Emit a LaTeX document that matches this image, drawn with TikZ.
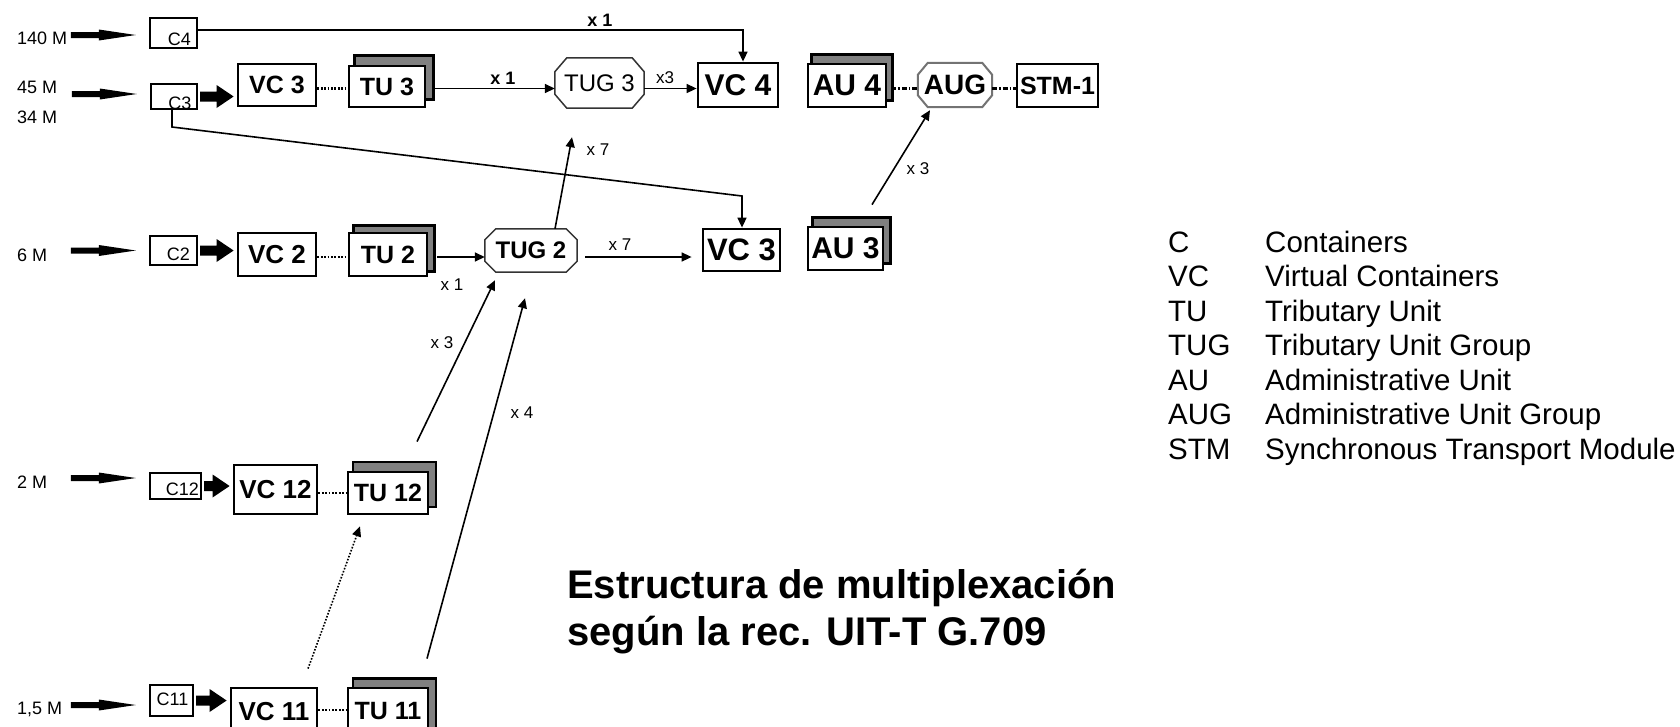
\documentclass[tikz,border=0pt]{standalone}
\usepackage{fontspec}
\setmainfont{Liberation Sans}
\usetikzlibrary{arrows.meta,calc,backgrounds}

\newcommand{\fsz}[1]{\fontsize{#1}{#1}\selectfont}

% thick input arrow (tip 13pt before the box, tail 65pt further left)
\newcommand{\inarrow}[2]{%
  \path ([xshift=-13pt,yshift=#2]#1.west) coordinate (ia-t);
  \fill ($(ia-t)+(-65,-3)$) -- ($(ia-t)+(-37,-3)$) -- ($(ia-t)+(-37,-5.5)$) -- (ia-t)
     -- ($(ia-t)+(-37,5.5)$) -- ($(ia-t)+(-37,3)$) -- ($(ia-t)+(-65,3)$) -- cycle;}

% fat block arrow from a C box to a VC box
\newcommand{\blockarrow}[2]{%
  \path ([xshift=2pt]#1.east) coordinate (ba-s);
  \path (ba-s -| #2.west) ++(-3,0) coordinate (ba-t);
  \fill ($(ba-s)+(0,-5)$) -- ($(ba-t)+(-17,-5)$) -- ($(ba-t)+(-17,-11.5)$) -- (ba-t)
     -- ($(ba-t)+(-17,11.5)$) -- ($(ba-t)+(-17,5)$) -- ($(ba-s)+(0,5)$) -- cycle;}

% grey shadow behind a unit box
\newcommand{\tushadow}[3]{%
  \begin{pgfonlayer}{background}
  \draw[shadowbox] ([shift={(#2,#3)}]#1.south west) rectangle ([shift={(#2,#3)}]#1.north east);
  \end{pgfonlayer}}

% octagon around a node
\newcommand{\octagon}[4]{%
  \draw[#4] ([xshift=#2]#1.north west) -- ([xshift=-#2]#1.north east) -- ([yshift=-#3]#1.north east)
    -- ([yshift=#3]#1.south east) -- ([xshift=-#2]#1.south east) -- ([xshift=#2]#1.south west)
    -- ([yshift=#3]#1.south west) -- ([yshift=-#3]#1.north west) -- cycle;}

\begin{document}
\begin{tikzpicture}[x=1pt,y=-1pt,
  bigbox/.style={draw, line width=2.8pt, fill=white, inner sep=0pt},
  cbox/.style={draw, line width=2.4pt, fill=white, inner sep=0pt},
  shadowbox/.style={draw, line width=2.4pt, fill=gray},
  ctext/.style={inner sep=0pt, font=\fsz{18}},
  rate/.style={anchor=base west, inner sep=0pt, font=\fsz{18}},
  xlab/.style={inner sep=0pt, font=\fsz{17}},
  xlabb/.style={inner sep=0pt, font=\bfseries\fsz{18}},
  octo/.style={inner sep=0pt, draw=none},
  tugline/.style={line width=1.5pt, draw=black!80},
  augline/.style={line width=2pt, draw=black!55},
  conn/.style={line width=1.6pt, -{Triangle[length=10pt,width=9pt]}},
  dotconn/.style={line width=1.6pt, dash pattern=on 1.6pt off 1.6pt, -{Triangle[length=10pt,width=9pt]}},
  dotc/.style={line width=2.5pt, dash pattern=on 1.8pt off 1.6pt},
  dashdotc/.style={line width=2.5pt, dash pattern=on 5pt off 2pt on 1.5pt off 2pt},
  legk/.style={anchor=base west, inner sep=0pt, font=\fsz{29.5}},
  title/.style={anchor=base west, inner sep=0pt, font=\bfseries\fsz{40}}
]
\useasboundingbox (0,0) rectangle (1680,726);
\begin{pgfonlayer}{background}\fill[white] (0,0) rectangle (1680,726);\end{pgfonlayer}

% ---------- rate labels ----------
\node[rate] (r140) at (17,44.5) {140 M};
\node[rate] (r45) at (17,93.5) {45 M};
\node[rate] (r34) at (17,123.5) {34 M};
\node[rate] (r6) at (17,261.5) {6 M};
\node[rate] (r2) at (17,488.5) {2 M};
\node[rate] (r15) at (17,714.5) {1,5 M};

% ---------- C boxes ----------
\node[cbox, minimum width=47pt, minimum height=30pt] (c4) at (173.5,33) {};
\node[ctext] (c4t) at (179.5,39) {C4};
\node[cbox, minimum width=46pt, minimum height=25pt] (c3) at (174,96.5) {};
\node[ctext] (c3t) at (180,103.5) {C3};
\node[cbox, minimum width=47pt, minimum height=29pt] (c2) at (173.5,250.5) {};
\node[ctext] (c2t) at (178.5,254) {C2};
\node[cbox, minimum width=51pt, minimum height=26pt] (c12) at (175.5,486) {};
\node[ctext] (c12t) at (182.5,489.5) {C12};
\node[cbox, minimum width=43pt, minimum height=31pt] (c11) at (171.5,700.5) {};
\node[ctext] (c11t) at (172.5,699.5) {C11};

\inarrow{c4}{-2pt}
\inarrow{c3}{2.5pt}
\inarrow{c2}{0pt}
\inarrow{c12}{8pt}
\inarrow{c11}{-4.5pt}

% ---------- row 1 ----------
\node[bigbox, minimum width=78pt, minimum height=42pt, font=\bfseries\fsz{25}] (vc3a) at (277,85) {VC 3};
\node[bigbox, minimum width=76pt, minimum height=41pt, font=\bfseries\fsz{25}] (tu3) at (387,86.5) {TU 3};
\tushadow{tu3}{7pt}{9pt}
\node[octo, minimum width=89pt, minimum height=50pt, font=\fsz{24}] (tug3) at (599.5,83) {TUG 3};
\octagon{tug3}{12pt}{14pt}{tugline}
\node[bigbox, minimum width=80pt, minimum height=44pt, font=\bfseries\fsz{30}] (vc4) at (738,85) {VC 4};
\node[bigbox, minimum width=78pt, minimum height=43pt, font=\bfseries\fsz{30}] (au4) at (847,85.5) {AU 4};
\tushadow{au4}{5pt}{8pt}
\node[octo, minimum width=74pt, minimum height=44pt, font=\bfseries\fsz{28}] (aug) at (955,85) {AUG};
\octagon{aug}{10pt}{12pt}{augline}
\node[bigbox, minimum width=81pt, minimum height=43pt, font=\bfseries\fsz{25}] (stm) at (1057.5,85.5) {STM-1};

% ---------- row 2 ----------
\node[bigbox, minimum width=78pt, minimum height=43pt, font=\bfseries\fsz{26}] (vc2) at (277,254.5) {VC 2};
\node[bigbox, minimum width=78pt, minimum height=43pt, font=\bfseries\fsz{25}] (tu2) at (388,254.5) {TU 2};
\tushadow{tu2}{6pt}{6pt}
\node[octo, minimum width=92pt, minimum height=43pt, font=\bfseries\fsz{24}] (tug2) at (531,250.5) {TUG 2};
\octagon{tug2}{11pt}{11pt}{tugline}
\node[bigbox, minimum width=77pt, minimum height=42pt, font=\bfseries\fsz{31}] (vc3b) at (741.5,250) {VC 3};
\node[bigbox, minimum width=75pt, minimum height=43pt, font=\bfseries\fsz{30}] (au3) at (845.5,248.5) {AU 3};
\tushadow{au3}{6pt}{8pt}

% ---------- row 3 ----------
\node[bigbox, minimum width=83pt, minimum height=49pt, font=\bfseries\fsz{26}] (vc12) at (275.5,489.5) {VC 12};
\node[bigbox, minimum width=80pt, minimum height=42pt, font=\bfseries\fsz{25}] (tu12) at (388,493) {TU 12};
\tushadow{tu12}{6.5pt}{8.5pt}

% ---------- row 4 ----------
\node[bigbox, minimum width=86pt, minimum height=47pt, font=\bfseries\fsz{26}] (vc11) at (274,711.5) {VC 11};
\node[bigbox, minimum width=80pt, minimum height=47pt, font=\bfseries\fsz{25}] (tu11) at (388,711.5) {TU 11};
\tushadow{tu11}{6.5pt}{8pt}

% ---------- block arrows ----------
\blockarrow{c3}{vc3a}
\blockarrow{c2}{vc2}
\blockarrow{c12}{vc12}
\blockarrow{c11}{vc11}

% ---------- connectors ----------
\coordinate (row1) at (0,88.5);
\coordinate (row2) at (0,257);
\coordinate (row3) at (0,493);
\coordinate (row4) at (0,710);

\draw[conn] ([yshift=3pt]c4.east) -| ([xshift=5pt]vc4.north);
\draw[dotc] (vc3a.east |- row1) -- (tu3.west |- row1);
\draw[conn, shorten <=9pt] (tu3.east |- row1) -- (tug3.west |- row1);
\draw[conn] (tug3.east |- row1) -- (vc4.west |- row1);
\draw[dashdotc, shorten <=4pt] (au4.east |- row1) -- (aug.west |- row1);
\draw[dashdotc] (aug.east |- row1) -- (stm.west |- row1);

\coordinate (bendA) at (172,127);
\coordinate (bendB) at (742,196);
\draw[conn] (c3.south -| bendA) -- (bendA) -- (bendB) -- (vc3b.north -| bendB);

\draw[conn] ($(tug2.north)+(24,0)$) -- ($(tug3.south)+(-27.5,29)$);

\draw[dotc] (vc2.east |- row2) -- (tu2.west |- row2);
\draw[conn, shorten <=9pt] (tu2.east |- row2) -- (tug2.west |- row2);
\draw[conn, shorten <=8pt, shorten >=10pt] (tug2.east |- row2) -- (vc3b.west |- row2);
\draw[conn] ($(au3.north)+(26.5,-21)$) -- ($(aug.south)+(-25,3)$);

\draw[dotc] (vc12.east |- row3) -- (tu12.west |- row3);
\draw[conn] ($(tu12.north)+(29,-29)$) -- ($(tug2.south)+(-36,8)$);

\draw[dotc] (vc11.east |- row4) -- (tu11.west |- row4);
\draw[conn] ($(tu11.north)+(39,-28)$) -- ($(tug2.south)+(-6,26)$);
\draw[dotconn] ($(vc11.north)+(34,-18)$) -- ($(tu12.south)+(-28,11)$);

% ---------- multiplicity labels ----------
\node[xlabb] (lx1a) at (600,20) {x 1};
\node[xlabb] (lx1b) at (503,78) {x 1};
\node[xlab] (lx3a) at (665,78) {x3};
\node[xlab] (lx7a) at (598,150) {x 7};
\node[xlab] (lx7b) at (620,245) {x 7};
\node[xlab] (lx1c) at (452,285) {x 1};
\node[xlab] (lx3b) at (442,343) {x 3};
\node[xlab] (lx4) at (522,413) {x 4};
\node[xlab] (lx3c) at (918,169) {x 3};

% ---------- title ----------
\node[title] (t1) at (567,598) {Estructura de multiplexación};
\node[title] (t2) at (567,645) {según la rec. UIT-T G.709};

% ---------- legend ----------
\node[legk] (k1) at (1168,252) {C};
\node[legk] (v1) at (1265,252) {Containers};
\node[legk] (k2) at (1168,286.5) {VC};
\node[legk] (v2) at (1265,286.5) {Virtual Containers};
\node[legk] (k3) at (1168,321) {TU};
\node[legk] (v3) at (1265,321) {Tributary Unit};
\node[legk] (k4) at (1168,355.5) {TUG};
\node[legk] (v4) at (1265,355.5) {Tributary Unit Group};
\node[legk] (k5) at (1168,390) {AU};
\node[legk] (v5) at (1265,390) {Administrative Unit};
\node[legk] (k6) at (1168,424.5) {AUG};
\node[legk] (v6) at (1265,424.5) {Administrative Unit Group};
\node[legk] (k7) at (1168,459) {STM};
\node[legk] (v7) at (1265,459) {Synchronous Transport Module};
\end{tikzpicture}
\end{document}
